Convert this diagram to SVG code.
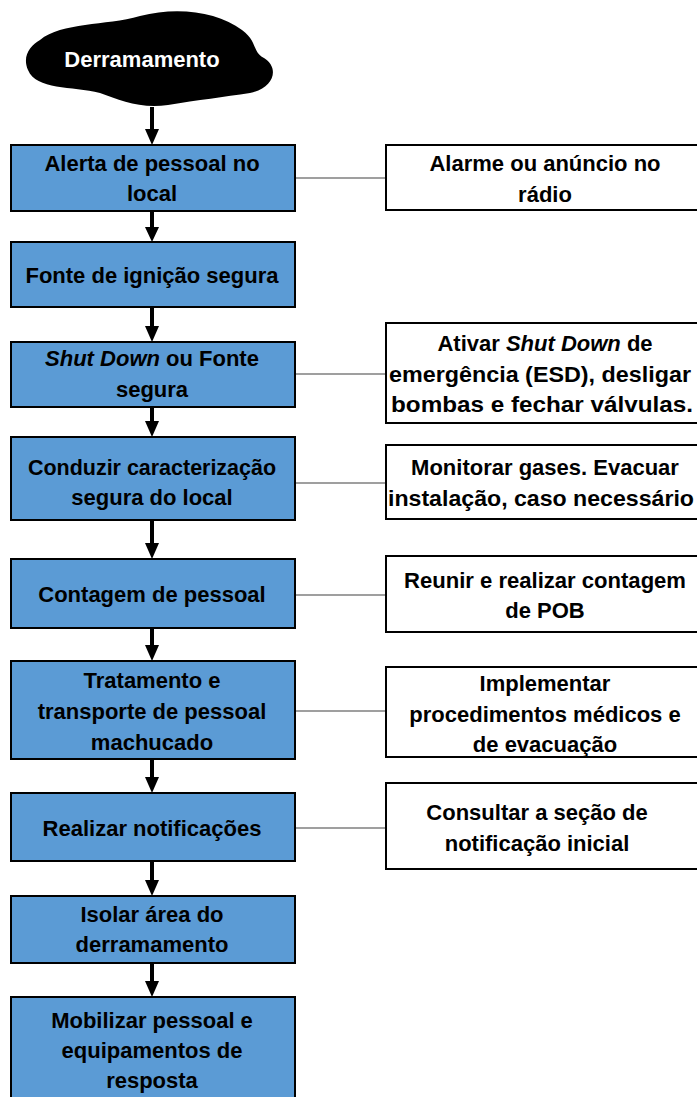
<svg xmlns="http://www.w3.org/2000/svg" width="697" height="1097" viewBox="0 0 697 1097">
<style>
.step{fill:#5B9BD5;stroke:#000;stroke-width:2}
.note{fill:#fff;stroke:#000;stroke-width:2}
.t{font-family:"Liberation Sans",Arial,sans-serif;font-weight:bold;font-size:22px;fill:#000;text-anchor:middle;dominant-baseline:central}
.w{fill:#fff}
.flow{stroke:#000;stroke-width:4;fill:none}
.link{stroke:#7f7f7f;stroke-width:1.3;fill:none}
</style>
<rect width="697" height="1097" fill="#fff"/>
<g id="connectors">
<path class="flow" d="M152,107 V130"/><path d="M145,129 L159,129 L152,145 Z"/>
<path class="flow" d="M152,211 V228"/><path d="M145,227 L159,227 L152,242 Z"/>
<path class="flow" d="M152,307 V327"/><path d="M145,326 L159,326 L152,342 Z"/>
<path class="flow" d="M152,407 V422"/><path d="M145,421 L159,421 L152,437 Z"/>
<path class="flow" d="M152,520 V544"/><path d="M145,543 L159,543 L152,559 Z"/>
<path class="flow" d="M152,628 V646"/><path d="M145,645 L159,645 L152,661 Z"/>
<path class="flow" d="M152,759 V778"/><path d="M145,777 L159,777 L152,793 Z"/>
<path class="flow" d="M152,861 V881"/><path d="M145,880 L159,880 L152,896 Z"/>
<path class="flow" d="M152,963 V982"/><path d="M145,981 L159,981 L152,997 Z"/>
<path class="link" d="M295,178 H386"/>
<path class="link" d="M295,374 H386"/>
<path class="link" d="M295,483 H386"/>
<path class="link" d="M295,595 H386"/>
<path class="link" d="M295,711 H386"/>
<path class="link" d="M295,828 H386"/>
</g>
<g id="start">
<path d="M40,40 C62,22 105,26 140,16 C178,6 218,12 242,30 C258,42 252,52 264,58 C280,68 274,88 250,93 C224,97 198,100 168,105 C140,109 120,100 100,93 C72,86 36,90 28,70 C22,56 30,46 40,40 Z" fill="#000"/>
<text class="t w" x="142" y="59" font-size="23">Derramamento</text>
</g>
<g id="n1"><rect class="step" x="11" y="145" width="284" height="66"/>
<text class="t" x="152" y="163">Alerta de pessoal no</text><text class="t" x="152" y="193">local</text></g>
<g id="n2"><rect class="step" x="11" y="242" width="284" height="65"/>
<text class="t" x="152" y="275">Fonte de ignição segura</text></g>
<g id="n3"><rect class="step" x="11" y="342" width="284" height="65"/>
<text class="t" x="152" y="358"><tspan font-style="italic">Shut Down</tspan> ou Fonte</text><text class="t" x="152" y="389">segura</text></g>
<g id="n4"><rect class="step" x="11" y="437" width="284" height="83"/>
<text class="t" x="152" y="467" textLength="248" lengthAdjust="spacingAndGlyphs">Conduzir caracterização</text><text class="t" x="152" y="497">segura do local</text></g>
<g id="n5"><rect class="step" x="11" y="559" width="284" height="69"/>
<text class="t" x="152" y="594">Contagem de pessoal</text></g>
<g id="n6"><rect class="step" x="11" y="661" width="284" height="98"/>
<text class="t" x="152" y="680">Tratamento e</text><text class="t" x="152" y="711">transporte de pessoal</text><text class="t" x="152" y="742">machucado</text></g>
<g id="n7"><rect class="step" x="11" y="793" width="284" height="68"/>
<text class="t" x="152" y="828">Realizar notificações</text></g>
<g id="n8"><rect class="step" x="11" y="896" width="284" height="67"/>
<text class="t" x="152" y="914">Isolar área do</text><text class="t" x="152" y="944">derramamento</text></g>
<g id="n9"><rect class="step" x="11" y="997" width="284" height="110"/>
<text class="t" x="152" y="1020">Mobilizar pessoal e</text><text class="t" x="152" y="1050">equipamentos de</text><text class="t" x="152" y="1080">resposta</text></g>
<g id="r1"><rect class="note" x="386" y="145" width="320" height="65"/>
<text class="t" x="545" y="163">Alarme ou anúncio no</text><text class="t" x="545" y="194">rádio</text></g>
<g id="r2"><rect class="note" x="386" y="323" width="320" height="100"/>
<text class="t" x="545" y="343">Ativar <tspan font-style="italic">Shut Down</tspan> de</text><text class="t" x="540" y="374" textLength="302" lengthAdjust="spacingAndGlyphs">emergência (ESD), desligar</text><text class="t" x="542" y="404" textLength="302" lengthAdjust="spacingAndGlyphs">bombas e fechar válvulas.</text></g>
<g id="r3"><rect class="note" x="386" y="445" width="320" height="74"/>
<text class="t" x="545" y="467">Monitorar gases. Evacuar</text><text class="t" x="541" y="498" textLength="306" lengthAdjust="spacingAndGlyphs">instalação, caso necessário</text></g>
<g id="r4"><rect class="note" x="386" y="556" width="320" height="76"/>
<text class="t" x="545" y="580" textLength="282" lengthAdjust="spacingAndGlyphs">Reunir e realizar contagem</text><text class="t" x="545" y="610">de POB</text></g>
<g id="r5"><rect class="note" x="386" y="667" width="320" height="90"/>
<text class="t" x="545" y="683">Implementar</text><text class="t" x="545" y="714">procedimentos médicos e</text><text class="t" x="545" y="744">de evacuação</text></g>
<g id="r6"><rect class="note" x="386" y="783" width="320" height="86"/>
<text class="t" x="537" y="812">Consultar a seção de</text><text class="t" x="537" y="843">notificação inicial</text></g>
</svg>
